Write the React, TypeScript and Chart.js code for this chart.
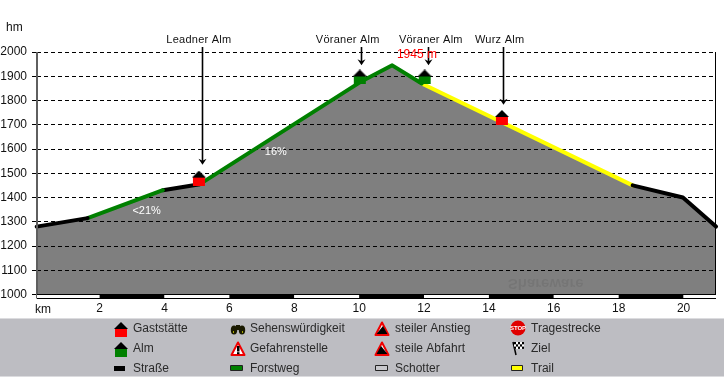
import React, { useEffect, useRef } from "react";
import { Chart, registerables } from "chart.js";

Chart.register(...registerables);

const profileKm = [0.06, 1.63, 3.95, 5.09, 10.02, 11.02, 11.93, 18.43, 19.98, 21.0];
const profileHm = [1280, 1315, 1430, 1455, 1875, 1945, 1870, 1450, 1400, 1280];
const roadA = [0, 1];
const forestA = [1, 2];
const roadB = [2, 3];
const forestB = [3, 4, 5, 6];
const trail = [6, 7];
const roadC = [7, 8, 9];

const yTicks = [1000, 1100, 1200, 1300, 1400, 1500, 1600, 1700, 1800, 1900, 2000];
const xTicks = [2, 4, 6, 8, 10, 12, 14, 16, 18, 20];
const stripeKm = [0.07, 2, 4, 6, 8, 10, 12, 14, 16, 18, 20, 21];

const hutNames = ["Leadner Alm", "Vöraner Alm", "Vöraner Alm", "Wurz Alm"];
const hutKm = [5.06, 10.02, 12.02, 14.4];
const hutHm = [1480, 1897, 1897, 1730];
const hutBody = ["#ff0000", "#008000", "#008000", "#ff0000"];
const arrowKm = [5.15, 10.05, 12.13, 14.43];
const arrowTipHm = [1535, 1945, 1945, 1782];
const labelKm = [5.06, 9.65, 12.21, 14.33];

const slopeLabels = ["<21%", "16%"];
const slopeKm = [3.45, 7.43];
const slopeHm = [1346, 1587];
const peakLabel = "1945 m";
const peakKm = [11.78];
const peakHm = [1990];
const ghostLabel = "Shareware";
const ghostKm = [15.75];
const ghostHm = [1045];

const legendRow1 = ["Gaststätte", "Sehenswürdigkeit", "steiler Anstieg", "Tragestrecke"];
const legendRow2 = ["Alm", "Gefahrenstelle", "steile Abfahrt", "Ziel"];
const legendRow3 = ["Straße", "Forstweg", "Schotter", "Trail"];

const FONT = '"Liberation Sans", Arial, sans-serif';
const pick = (idx: number[]) => idx.map((i) => ({ x: profileKm[i], y: profileHm[i] }));

function house(body: string) {
  const c = document.createElement("canvas");
  c.width = 14;
  c.height = 15;
  const g = c.getContext("2d")!;
  g.fillStyle = body;
  g.fillRect(1, 7, 12, 8);
  g.fillStyle = "#000";
  g.beginPath();
  g.moveTo(7, 0);
  g.lineTo(14, 7);
  g.lineTo(0, 7);
  g.closePath();
  g.fill();
  return c;
}

function warn(g: CanvasRenderingContext2D, cx: number, cy: number, mode: string) {
  g.beginPath();
  g.moveTo(cx, cy - 6.5);
  g.lineTo(cx + 6.5, cy + 6);
  g.lineTo(cx - 6.5, cy + 6);
  g.closePath();
  g.fillStyle = "#fff";
  g.fill();
  g.lineWidth = 2;
  g.strokeStyle = "#f00000";
  g.lineJoin = "round";
  g.stroke();
  g.fillStyle = "#000";
  g.beginPath();
  if (mode === "point") {
    g.fillRect(cx - 1, cy - 3, 2.5, 5.5);
    g.fillRect(cx - 1, cy + 3.2, 2.5, 2);
  } else if (mode === "up") {
    g.moveTo(cx + 5.5, cy + 5);
    g.lineTo(cx - 5.5, cy + 5);
    g.lineTo(cx + 1, cy - 3);
    g.closePath();
    g.fill();
  } else {
    g.moveTo(cx - 5.5, cy + 5);
    g.lineTo(cx + 5.5, cy + 5);
    g.lineTo(cx - 1, cy - 3);
    g.closePath();
    g.fill();
  }
}

const extras = {
  id: "extras",
  afterDatasetsDraw(chart: any) {
    const { ctx: g, scales } = chart;
    const X = scales.x;
    const Y = scales.y;
    const left = X.left;
    const right = X.right;
    const bottom = Y.bottom;
    g.save();

    // faint mirrored watermark inside the profile
    g.save();
    g.translate(X.getPixelForValue(ghostKm[0]), Y.getPixelForValue(ghostHm[0]));
    g.scale(1, -1);
    g.font = `bold 15px ${FONT}`;
    g.textAlign = "center";
    g.textBaseline = "middle";
    g.fillStyle = "rgba(0,0,0,0.08)";
    g.fillText(ghostLabel, 0, 0);
    g.restore();

    // axis frame
    g.fillStyle = "#5f5f5f";
    g.fillRect(Math.round(left) - 1, Math.round(Y.top), 2, bottom - Y.top + 4);
    g.fillStyle = "#000";
    g.fillRect(Math.round(right) - 1, Math.round(Y.top), 1, bottom - Y.top + 4);

    // km stripe
    const top = Math.round(bottom);
    for (let i = 0; i < stripeKm.length - 1; i++) {
      const a = X.getPixelForValue(stripeKm[i]);
      const b = X.getPixelForValue(stripeKm[i + 1]);
      g.fillStyle = i % 2 === 0 ? "#fff" : "#000";
      g.fillRect(a, top, b - a, 3);
    }
    g.fillStyle = "#000";
    g.fillRect(left, top - 1, right - left, 1);
    g.fillRect(left, top + 3, right - left, 1);

    // arrows and labels
    g.font = `11px ${FONT}`;
    g.letterSpacing = "0.25px";
    g.textAlign = "center";
    g.textBaseline = "middle";
    hutNames.forEach((name, i) => {
      const lx = X.getPixelForValue(labelKm[i]);
      g.fillStyle = "#111";
      g.fillText(name, lx, 39.5);
      const ax = Math.round(X.getPixelForValue(arrowKm[i])) + 0.5;
      const tip = Y.getPixelForValue(arrowTipHm[i]);
      g.strokeStyle = "#000";
      g.lineWidth = 1.6;
      g.beginPath();
      g.moveTo(ax, 47);
      g.lineTo(ax, tip - 3);
      g.stroke();
      g.fillStyle = "#000";
      g.beginPath();
      g.moveTo(ax, tip);
      g.lineTo(ax + 4, tip - 6);
      g.lineTo(ax, tip - 4);
      g.lineTo(ax - 4, tip - 6);
      g.closePath();
      g.fill();
    });
    g.letterSpacing = "0px";

    // peak and slope labels
    g.fillStyle = "#ff0000";
    g.font = `12px ${FONT}`;
    g.fillText(peakLabel, X.getPixelForValue(peakKm[0]), Y.getPixelForValue(peakHm[0]));
    g.fillStyle = "#fff";
    g.font = `11px ${FONT}`;
    slopeLabels.forEach((t, i) => {
      g.fillText(t, X.getPixelForValue(slopeKm[i]), Y.getPixelForValue(slopeHm[i]));
    });

    // axis titles
    g.fillStyle = "#111";
    g.font = `12px ${FONT}`;
    g.textAlign = "left";
    g.fillText("hm", 6, 28);
    g.fillText("km", 35, 310);

    // legend band
    g.fillStyle = "#bdbdc2";
    g.fillRect(0, 319, 724, 57);
    g.fillStyle = "#dcdcdf";
    g.fillRect(0, 318, 724, 1);
    g.fillRect(0, 376, 724, 1);

    const textX = [133, 250, 395, 531];
    const iconX = [121, 238, 382, 518];
    const rows = [legendRow1, legendRow2, legendRow3];
    const rowY = [329, 349, 369];
    g.font = `12px ${FONT}`;
    g.textBaseline = "middle";
    rows.forEach((row, r) =>
      row.forEach((t, c) => {
        g.fillStyle = "#2a2a2a";
        g.fillText(t, textX[c], rowY[r]);
      })
    );

    g.drawImage(house("#ff0000"), iconX[0] - 7, 322);
    g.drawImage(house("#008000"), iconX[0] - 7, 342);
    g.fillStyle = "#000";
    g.fillRect(iconX[0] - 7, 366, 11, 5);

    // binoculars
    g.fillStyle = "#1a1a00";
    [-4, 4].forEach((d) => {
      g.beginPath();
      g.ellipse(iconX[1] + d, 330, 3.2, 4.5, 0, 0, Math.PI * 2);
      g.fill();
    });
    g.fillRect(iconX[1] - 2, 325, 4, 5);
    g.fillStyle = "#a8a800";
    g.fillRect(iconX[1] - 5, 331, 1, 2);
    g.fillRect(iconX[1] + 4, 331, 1, 2);

    warn(g, iconX[1], 349, "point");
    g.fillStyle = "#008000";
    g.fillRect(iconX[1] - 7, 366, 11, 5);
    g.strokeStyle = "#222";
    g.lineWidth = 1;
    g.strokeRect(iconX[1] - 7.5, 365.5, 12, 5);

    warn(g, iconX[2], 329, "up");
    warn(g, iconX[2], 349, "down");
    g.fillStyle = "#c8c8cc";
    g.fillRect(iconX[2] - 6, 366, 11, 5);
    g.strokeStyle = "#222";
    g.lineWidth = 1;
    g.strokeRect(iconX[2] - 6.5, 365.5, 12, 5);

    // stop sign
    g.fillStyle = "#e00000";
    g.beginPath();
    g.arc(iconX[3], 328, 7.5, 0, Math.PI * 2);
    g.fill();
    g.fillStyle = "#fff";
    g.font = `bold 6px ${FONT}`;
    g.textAlign = "center";
    g.fillText("STOP", iconX[3], 328.5);

    // flag
    g.strokeStyle = "#000";
    g.lineWidth = 1.5;
    g.beginPath();
    g.moveTo(iconX[3] - 5, 342);
    g.lineTo(iconX[3] - 2, 355);
    g.stroke();
    g.fillStyle = "#fff";
    g.fillRect(iconX[3] - 4, 342, 10, 7);
    g.fillStyle = "#000";
    for (let a = 0; a < 5; a++)
      for (let b = 0; b < 3; b++)
        if ((a + b) % 2 === 0) g.fillRect(iconX[3] - 4 + a * 2, 342 + b * 2.3, 2, 2.3);

    g.fillStyle = "#ffff00";
    g.fillRect(iconX[3] - 6, 366, 11, 5);
    g.strokeStyle = "#222";
    g.lineWidth = 1;
    g.strokeRect(iconX[3] - 6.5, 365.5, 11, 5);

    g.restore();
  },
};

export default function App() {
  const ref = useRef<HTMLCanvasElement>(null);

  useEffect(() => {
    const line = (data: any[], color: string) => ({
      type: "line" as const,
      data,
      borderColor: color,
      borderWidth: 4,
      pointRadius: 0,
      tension: 0,
      fill: false,
      clip: false as any,
      borderCapStyle: "round" as const,
      borderJoinStyle: "round" as const,
    });
    const chart = new Chart(ref.current!, {
      type: "line",
      data: {
        datasets: [
          {
            data: profileKm.map((x, i) => ({ x, y: profileHm[i] })),
            backgroundColor: "rgba(0,0,0,0.5)",
            borderWidth: 0,
            pointRadius: 0,
            tension: 0,
            fill: "start",
            order: 9,
          },
          { ...line(pick(roadA), "#000"), order: 5 },
          { ...line(pick(forestA), "#008000"), order: 5 },
          { ...line(pick(roadB), "#000"), order: 5 },
          { ...line(pick(trail), "#ffff00"), order: 5 },
          { ...line(pick(forestB), "#008000"), order: 4 },
          { ...line(pick(roadC), "#000"), order: 4 },
          {
            data: hutKm.map((x, i) => ({ x, y: hutHm[i] })),
            showLine: false,
            pointStyle: hutBody.map(house) as any,
            pointRadius: 7,
            order: 1,
          },
        ] as any,
      },
      options: {
        responsive: false,
        animation: false,
        events: [],
        layout: { padding: { top: 52, right: 9, left: 0, bottom: 0 } },
        plugins: { legend: { display: false }, tooltip: { enabled: false } },
        scales: {
          x: {
            type: "linear",
            min: 0.07,
            max: 21,
            border: { display: false },
            grid: { display: false, drawTicks: false, tickLength: 0 },
            afterFit: (s: any) => {
              s.height = 82.5;
            },
            afterBuildTicks: (s: any) => {
              s.ticks = xTicks.map((value) => ({ value }));
            },
            ticks: {
              color: "#111",
              maxRotation: 0,
              padding: 7,
              callback: (v: any) => String(v),
              font: { family: FONT, size: 12 },
            },
          },
          y: {
            type: "linear",
            min: 1000,
            max: 2000,
            grid: {
              color: "#000",
              lineWidth: 1,
              tickLength: 5,
              tickColor: "#000",
            },
            border: { display: false, dash: [4, 3] },
            afterFit: (s: any) => {
              s.width = 37;
            },
            afterBuildTicks: (s: any) => {
              s.ticks = yTicks.map((value) => ({ value }));
            },
            ticks: {
              color: "#111",
              padding: 5,
              callback: (v: any) => String(v),
              font: { family: FONT, size: 12 },
            },
          },
        },
      } as any,
      plugins: [extras],
    });
    return () => chart.destroy();
  }, []);

  return (
    <canvas
      ref={ref}
      width={725}
      height={377}
      style={{ position: "fixed", left: 0, top: 0, width: 725, height: 377, background: "#fff" }}
    />
  );
}
